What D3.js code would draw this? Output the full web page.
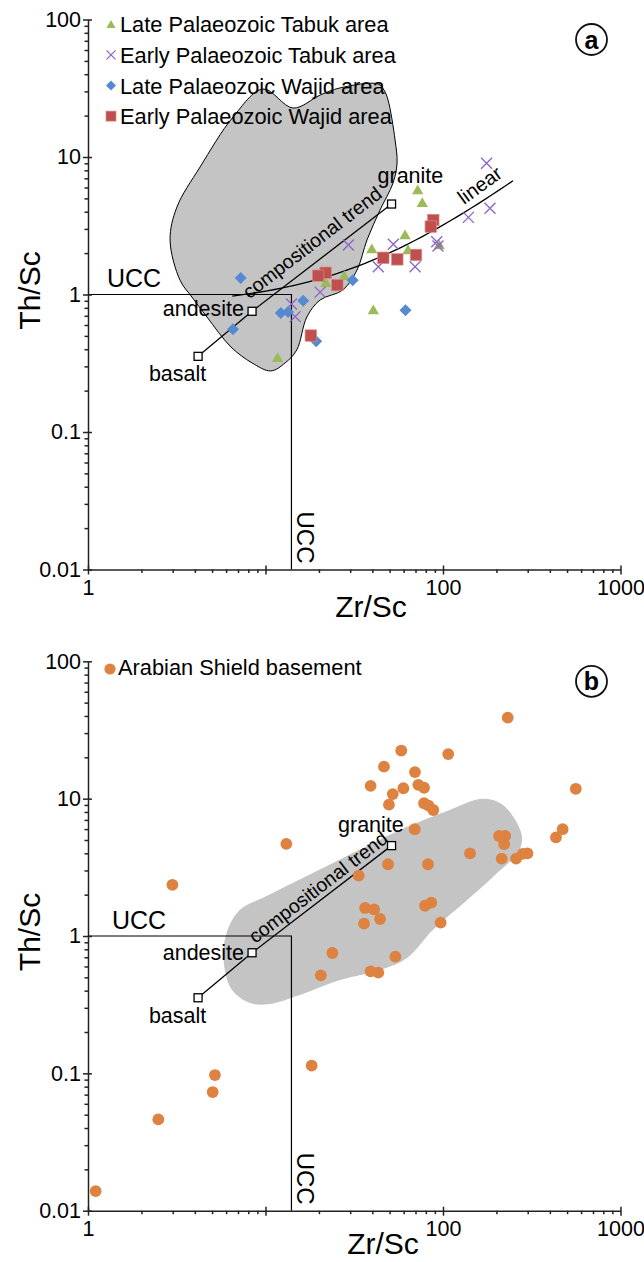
<!doctype html>
<html lang="en">
<head>
<meta charset="UTF-8">
<title>Th/Sc vs Zr/Sc</title>
<script src="https://cdn.jsdelivr.net/npm/d3@7"></script>
<style>
body { margin: 0; background: #fff; }
svg text { font-family: "Liberation Sans", Arial, Helvetica, sans-serif; fill: #000; }
</style>
</head>
<body>
<div id="chart"></div>
<script>
// values, [Zr/Sc, Th/Sc]
var lateTabuk = [[72.0,5.75],[76.4,4.65],[61.1,2.71],[39.7,2.14],[63.5,2.11],[95.3,2.29],
  [27.8,1.37],[21.9,1.22],[40.5,0.771],[11.7,0.347]];
var earlyTabuk = [[176,9.0],[184,4.24],[139,3.64],[29.3,2.29],[52.5,2.32],[92.2,2.42],[93.7,2.25],
  [43.2,1.59],[69.6,1.59],[20.3,1.04],[14.0,0.853],[14.7,0.690]];
var lateWajid = [[7.25,1.32],[31.0,1.27],[16.3,0.901],[12.2,0.733],[13.4,0.746],[6.56,0.558],
  [19.3,0.457],[61.5,0.767]];
var earlyWajid = [[88.2,3.48],[85.3,3.12],[70.5,1.94],[55.3,1.80],[46.1,1.85],[21.8,1.44],
  [19.8,1.37],[25.4,1.17],[18.0,0.503]];
var shield = [[231.5,38.9],[58.2,22.4],[107,21.1],[46.5,17.1],[69.5,15.6],[39.1,12.4],[59.8,11.9],
  [72.6,12.6],[78.2,12.0],[52.1,10.8],[49.6,9.04],[78.2,9.26],[83.0,8.89],[88.2,8.27],[560,11.8],
  [13.1,4.68],[69.3,5.99],[472,5.99],[433,5.23],[207,5.35],[224,5.35],[221,4.66],[142,4.00],
  [214,3.66],[258,3.66],[281,3.96],[299,4.00],[49.0,3.33],[82.3,3.33],[33.5,2.75],[36.4,1.60],
  [40.9,1.56],[44.2,1.33],[35.9,1.23],[79.2,1.66],[85.9,1.75],[97.0,1.25],[23.8,0.752],[53.9,0.707],
  [20.5,0.517],[39.1,0.553],[43.2,0.541],[2.99,2.36],[1.105,0.0139],[2.49,0.0462],[5.19,0.0972],
  [5.04,0.0731],[18.2,0.114]];

// outlines of the grey fields
var fieldA = [[20.3,28.2],[26.3,31.8],[43.0,34.0],[46.5,30.7],[49.0,26.0],[53.7,13.3],[55.1,9.04],
  [52.3,6.47],[44.2,4.12],[37.3,2.49],[32.8,1.51],[27.3,1.08],[20.3,0.912],[17.1,0.686],[15.0,0.395],
  [12.9,0.318],[10.7,0.278],[8.4,0.318],[6.39,0.415],[4.68,0.686],[3.85,0.959],[3.30,1.27],
  [2.90,2.49],[3.17,4.33],[4.28,8.46],[6.56,19.5],[9.68,31.2],[14.3,22.7]];
var fieldB = [[7.18,1.55],[10.2,1.96],[24.0,3.40],[57.3,5.92],[109,8.27],[162,9.95],[209,9.31],
  [245,7.61],[279,5.26],[265,4.09],[191,2.69],[137,1.83],[87.9,1.11],[62.7,0.691],[44.2,0.566],
  [26.3,0.478],[15.6,0.372],[10.6,0.320],[8.18,0.325],[6.48,0.404],[5.84,0.615],[5.99,1.02]];

var basalt = [4.17,0.355], andesite = [8.4,0.755], granite = [51.3,4.55];
var ucc = [14, 1];
var linearFit = [0.82, 0.0238];   // Th/Sc = a + b * Zr/Sc
var linearRange = [6.5, 248];

var xTicks = [1,10,100,1000], xTickLabels = ["1","","100","1000"];
var yTicks = [0.01,0.1,1,10,100], yTickLabels = ["0.01","0.1","1","10","100"];
var legendA = ["Late Palaeozoic Tabuk area","Early Palaeozoic Tabuk area",
  "Late Palaeozoic Wajid area","Early Palaeozoic Wajid area"];
var legendB = ["Arabian Shield basement"];

var cGreen = "#9bbb59", cPurple = "#8b63c9", cBlue = "#558ad0", cRed = "#c0504d", cOrange = "#dd8240";

var svg = d3.select("#chart").append("svg").attr("width",644).attr("height",1262);
var x = d3.scaleLog().domain([1,1000]).range([88,620.5]);

var minorX = [], minorY = [];
[1,10,100].forEach(function(d){ for(var k=2;k<10;k++) minorX.push(d*k); });
[0.01,0.1,1,10].forEach(function(d){ for(var k=2;k<10;k++) minorY.push(d*k); });

function tri(g, s){ return g.append("path").attr("d", d3.symbol(d3.symbolTriangle, s)()).attr("fill", cGreen); }
function cross(g, h){ return g.append("path").attr("d","M"+(-h)+","+(-h)+"L"+h+","+h+"M"+(-h)+","+h+"L"+h+","+(-h))
  .attr("stroke", cPurple).attr("stroke-width",1.3).attr("fill","none"); }
function diamond(g, h){ return g.append("path").attr("d","M0,"+(-h)+"L"+h+",0L0,"+h+"L"+(-h)+",0Z").attr("fill", cBlue); }
function square(g, h){ return g.append("rect").attr("x",-h).attr("y",-h).attr("width",2*h).attr("height",2*h)
  .attr("fill", cRed).attr("stroke","#d98886").attr("stroke-width",0.7); }

function drawPanel(p){
  var y = d3.scaleLog().domain([0.01,100]).range([p.bottom, p.top]);
  var g = svg.append("g");
  var line = d3.line().x(function(d){return x(d[0]);}).y(function(d){return y(d[1]);});

  g.append("path").datum(p.field)
    .attr("d", line.curve(d3.curveCatmullRomClosed.alpha(0.5)))
    .attr("fill","#c4c4c4")
    .attr("stroke", p.outline ? "#000" : "none").attr("stroke-width",1);
  line.curve(d3.curveLinear);

  // UCC reference lines
  g.append("path").datum([[1,ucc[1]],[ucc[0],ucc[1]],[ucc[0],0.01]])
    .attr("d", line).attr("fill","none").attr("stroke","#000").attr("stroke-width",1.2);
  g.append("text").attr("x", p.uccX).attr("y", y(ucc[1]) - 7.5).attr("font-size",25).text("UCC");
  g.append("text").attr("transform","translate("+(x(ucc[0])+6)+","+(y(0.01)-58)+") rotate(90)")
    .attr("font-size",24).text("UCC");

  // compositional trend
  g.append("path").datum([basalt, andesite, granite])
    .attr("d", line).attr("fill","none").attr("stroke","#000").attr("stroke-width",1.3);
  var ax = x(andesite[0]), ay = y(andesite[1]), gx = x(granite[0]), gy = y(granite[1]);
  var ang = Math.atan2(gy-ay, gx-ax);
  var ux = Math.cos(ang), uy = Math.sin(ang);
  var tx = ax + ux*p.trendAlong + uy*p.trendUp, ty = ay + uy*p.trendAlong - ux*p.trendUp;
  g.append("text").attr("transform","translate("+tx+","+ty+") rotate("+(ang*180/Math.PI)+")")
    .attr("font-size",19.5).text("compositional trend");

  if (p.linear) {
    var lx = d3.range(0, 41).map(function(i){
      return linearRange[0]*Math.pow(linearRange[1]/linearRange[0], i/40); });
    g.append("path").datum(lx.map(function(v){ return [v, linearFit[0] + linearFit[1]*v]; }))
      .attr("d", line).attr("fill","none").attr("stroke","#000").attr("stroke-width",1.3);
    g.append("text").attr("transform","translate(464,205) rotate(-36)").attr("font-size",20).text("linear");
  }

  [basalt, andesite, granite].forEach(function(d){
    g.append("rect").attr("x", x(d[0])-4).attr("y", y(d[1])-4).attr("width",8).attr("height",8)
      .attr("fill","#fff").attr("stroke","#000").attr("stroke-width",1.3);
  });
  g.append("text").attr("x", x(granite[0]) + p.graniteDx).attr("y", y(granite[1]) + p.graniteDy)
    .attr("font-size",21.5).text("granite");
  g.append("text").attr("x", x(andesite[0]) - 8).attr("y", y(andesite[1]) + p.andesiteDy)
    .attr("font-size",21.5).attr("text-anchor","end").text("andesite");
  g.append("text").attr("x", x(basalt[0]) - 20.5).attr("y", y(basalt[1]) + 25)
    .attr("font-size",21.5).attr("text-anchor","middle").text("basalt");

  // axes
  function styleAxis(a){
    a.attr("font-family",null).attr("font-size",null);
    a.selectAll("path, line").attr("stroke","#222").attr("stroke-width",1.5);
    a.selectAll("text").attr("font-size",21.5).attr("fill","#000");
  }
  var xa = g.append("g").attr("transform","translate(0,"+y(0.01)+")")
    .call(d3.axisBottom(x).tickValues(minorX).tickSize(3.5).tickSizeOuter(0).tickFormat(""));
  styleAxis(xa); xa.select(".domain").remove();
  xa = g.append("g").attr("transform","translate(0,"+y(0.01)+")")
    .call(d3.axisBottom(x).tickValues(xTicks).tickSize(5).tickPadding(5).tickSizeOuter(0)
      .tickFormat(function(d,i){ return xTickLabels[i]; }));
  styleAxis(xa); xa.selectAll(".tick line").attr("y1",-4);

  var ya = g.append("g").attr("transform","translate("+x(1)+",0)")
    .call(d3.axisLeft(y).tickValues(minorY).tickSize(3.5).tickSizeOuter(0).tickFormat(""));
  styleAxis(ya); ya.select(".domain").remove();
  ya = g.append("g").attr("transform","translate("+x(1)+",0)")
    .call(d3.axisLeft(y).tickValues(yTicks).tickSize(5).tickPadding(2).tickSizeOuter(0)
      .tickFormat(function(d,i){ return yTickLabels[i]; }));
  styleAxis(ya); ya.selectAll(".tick line").attr("x1",4);

  g.append("text").attr("x", p.titleX).attr("y", y(0.01) + p.titleDy).attr("text-anchor","middle")
    .attr("font-size",30).text("Zr/Sc");
  g.append("text").attr("transform","translate(40,"+(y(1)-4)+") rotate(-90)").attr("text-anchor","middle")
    .attr("font-size",30).text("Th/Sc");

  g.append("circle").attr("cx",591.5).attr("cy",p.top+20).attr("r",15.5)
    .attr("fill","#fff").attr("stroke","#111").attr("stroke-width",1.8);
  g.append("text").attr("x",591.5).attr("y",p.top+20).attr("dy","0.36em").attr("text-anchor","middle")
    .attr("font-size",25).attr("font-weight","bold").text(p.letter);

  return y;
}

// panel a
var yA = drawPanel({top:19.5, bottom:569.5, field:fieldA, outline:true, linear:true, letter:"a",
  uccX:107, titleX:371, titleDy:47, trendAlong:5, trendUp:11, graniteDx:-14, graniteDy:-21, andesiteDy:5});
var gA = svg.append("g");
lateTabuk.forEach(function(d){ tri(gA,56).attr("transform","translate("+x(d[0])+","+(yA(d[1])+1)+")"); });
earlyTabuk.forEach(function(d){ cross(gA,5.5).attr("transform","translate("+x(d[0])+","+yA(d[1])+")"); });
lateWajid.forEach(function(d){ diamond(gA,6).attr("transform","translate("+x(d[0])+","+yA(d[1])+")"); });
earlyWajid.forEach(function(d){ square(gA,5.7).attr("transform","translate("+x(d[0])+","+yA(d[1])+")"); });

var lg = svg.append("g");
var legendMarks = [function(){ return tri(lg,36); }, function(){ return cross(lg,4.5); },
  function(){ return diamond(lg,5); }, function(){ return square(lg,5); }];
legendA.forEach(function(t,i){
  var by = 32.3 + i*30.6, my = by - 8;
  legendMarks[i]().attr("transform","translate(111,"+(my+(i==0?1:0))+")");
  lg.append("text").attr("x",120).attr("y",by).attr("font-size",21.8).text(t);
});

// panel b
var yB = drawPanel({top:661.3, bottom:1210.7, field:fieldB, outline:false, linear:false, letter:"b",
  uccX:112, titleX:383, titleDy:43, trendAlong:8, trendUp:5, graniteDx:-53.5, graniteDy:-14, andesiteDy:7.5});
var gB = svg.append("g");
gB.selectAll("circle").data(shield).enter().append("circle")
  .attr("cx", function(d){ return x(d[0]); })
  .attr("cy", function(d){ return yB(d[1]); })
  .attr("r", 5.9).attr("fill", cOrange);
gB.append("circle").attr("cx",110).attr("cy",669).attr("r",5.6).attr("fill",cOrange);
gB.append("text").attr("x",118).attr("y",675).attr("font-size",21.8).text(legendB[0]);
</script>
</body>
</html>
